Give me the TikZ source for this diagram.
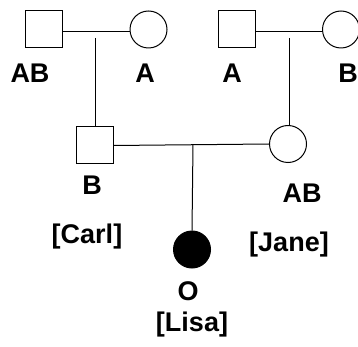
\documentclass[tikz,border=0pt]{standalone}
\usepackage{fontspec}
\setmainfont{Liberation Sans}
\begin{document}
\begin{tikzpicture}[x=1pt,y=-1pt,
  male/.style={draw,line width=1pt,minimum size=37pt,inner sep=0pt,rectangle},
  female/.style={draw,line width=1pt,minimum size=37pt,inner sep=0pt,circle},
  affected/.style={female,fill=black},
  lbl/.style={font=\bfseries\fontsize{27}{29}\selectfont,inner sep=0pt},
  link/.style={line width=1pt}]
\useasboundingbox (0,0) rectangle (358,347);
\node[male] (m1) at (44,29.5) {};
\node[female] (f1) at (148.5,29.5) {};
\node[male] (m2) at (237,29.5) {};
\node[female] (f2) at (341,29.5) {};
\node[male] (carl) at (94.5,145.5) {};
\node[female] (jane) at (288,144) {};
\node[affected] (lisa) at (192,249.5) {};
\coordinate (u1) at (95.5,32);
\coordinate (u2) at (289,32);
\coordinate (u3) at (193,144.5);
\draw[link] (m1.east |- u1) -- (f1.west |- u1);
\draw[link] (m2.east |- u2) -- (f2.west |- u2);
\draw[link] (u1 |- 0,38) -- (carl.north -| u1);
\draw[link] (u2 |- 0,38) -- (jane.north -| u2);
\draw[link] (carl.east) -- (jane.west);
\draw[link] (u3) -- (lisa.north);
\node[lbl] (l1) at (30,73) {AB};
\node[lbl] (l2) at (145,73) {A};
\node[lbl] (l3) at (232,73) {A};
\node[lbl] (l4) at (348,73) {B};
\node[lbl] (l5) at (92,185) {B};
\node[lbl] (l6) at (302,193) {AB};
\node[lbl] (l7) at (188,291) {O};
\node[lbl] (n1) at (87,237) {[Carl]};
\node[lbl] (n2) at (289,245) {[Jane]};
\node[lbl] (n3) at (192,325) {[Lisa]};
\end{tikzpicture}
\end{document}
